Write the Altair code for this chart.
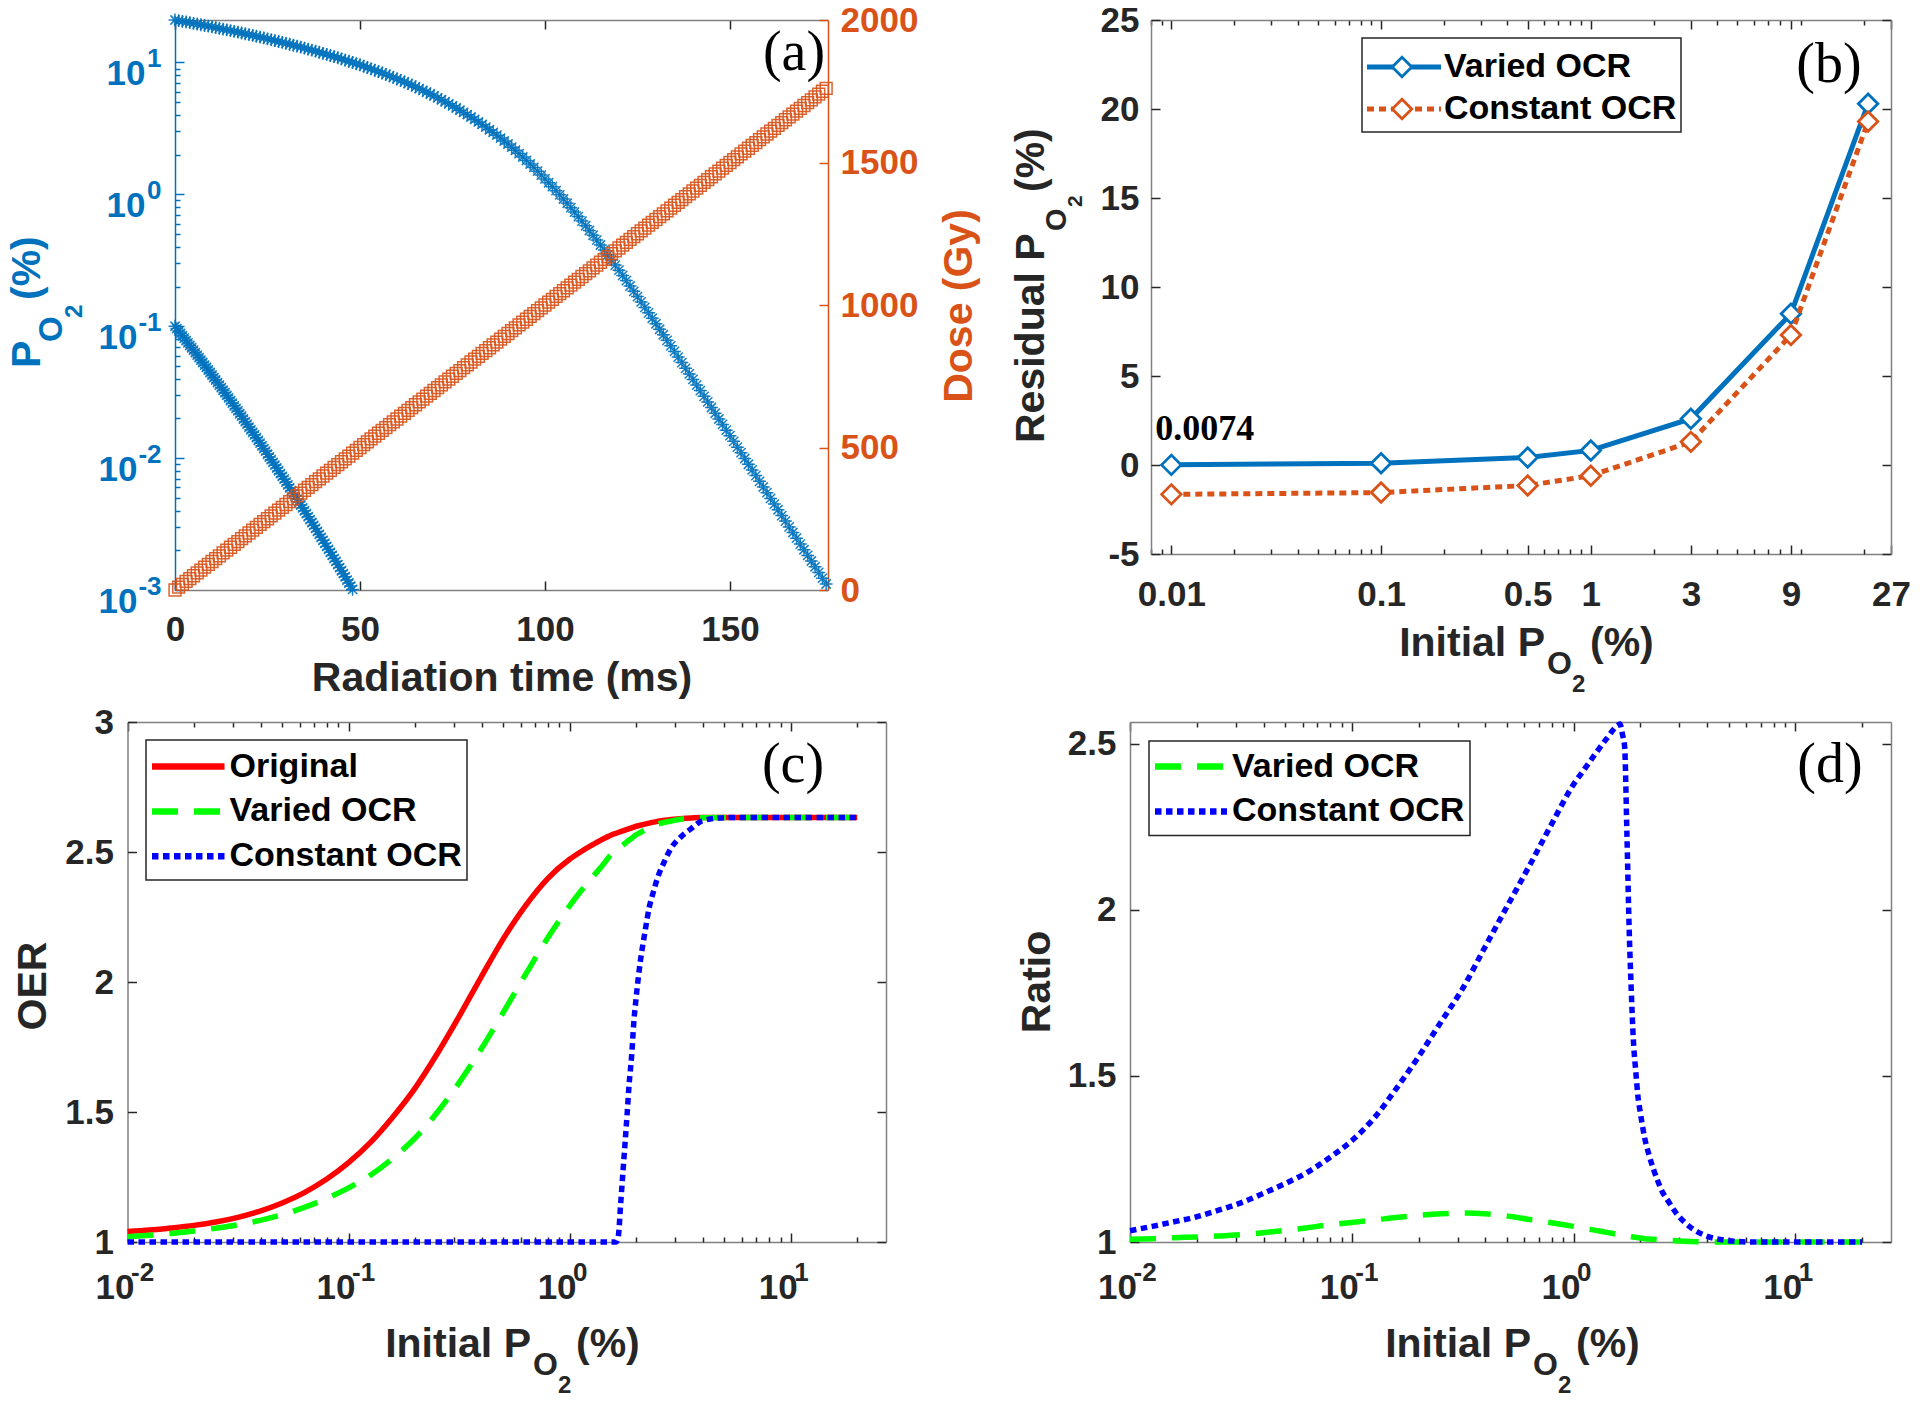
import altair as alt
import pandas as pd

# ---------------------------------------------------------------- data
# (a) PO2 decay during irradiation, 1 ms steps, initial 21 %
time_ms = list(range(0, 177))
po2_21 = [
    21.00, 20.76, 20.52, 20.28, 20.04, 19.80, 19.57, 19.33, 19.09, 18.86,
    18.62, 18.39, 18.15, 17.91, 17.68, 17.44, 17.21, 16.98, 16.74, 16.51,
    16.28, 16.05, 15.81, 15.58, 15.35, 15.12, 14.89, 14.66, 14.43, 14.20,
    13.97, 13.75, 13.52, 13.30, 13.07, 12.85, 12.62, 12.40, 12.18, 11.96,
    11.74, 11.52, 11.30, 11.08, 10.86, 10.65, 10.43, 10.22, 10.00, 9.79,
    9.58, 9.37, 9.16, 8.95, 8.74, 8.53, 8.33, 8.12, 7.92, 7.72,
    7.52, 7.32, 7.12, 6.92, 6.73, 6.53, 6.34, 6.15, 5.96, 5.77,
    5.58, 5.40, 5.22, 5.04, 4.86, 4.69, 4.52, 4.35, 4.18, 4.02,
    3.86, 3.70, 3.54, 3.39, 3.24, 3.09, 2.95, 2.81, 2.67, 2.54,
    2.41, 2.28, 2.16, 2.04, 1.92, 1.81, 1.70, 1.60, 1.50, 1.40,
    1.31,
    1.225, 1.143, 1.066, 0.992, 0.922, 0.856, 0.793, 0.734, 0.679, 0.627,
    0.578, 0.532, 0.490, 0.450, 0.413, 0.379, 0.347, 0.318, 0.291, 0.266,
    0.243, 0.222, 0.202, 0.184, 0.168, 0.153, 0.139, 0.1265, 0.115, 0.1045,
    0.0949, 0.0862, 0.0782, 0.0710, 0.0644, 0.0584, 0.0530, 0.0480, 0.0435, 0.0395,
    0.0358, 0.0325, 0.0294, 0.0267, 0.0242, 0.0219, 0.0198, 0.0180, 0.0163, 0.0148,
    0.0134, 0.0121, 0.0110, 0.00993, 0.00899, 0.00814, 0.00737, 0.00667, 0.00604, 0.00547,
    0.00495, 0.00448, 0.00406, 0.00367, 0.00333, 0.00301, 0.00273, 0.00247, 0.00223, 0.00202,
    0.00183, 0.00166, 0.00150, 0.00136, 0.00123, 0.00111,
]
# (a) PO2 decay, initial 0.1 %, 0.5 ms steps
time_low_ms = [i * 0.5 for i in range(97)]
po2_01 = [
    0.1000, 0.0960, 0.0921, 0.0883, 0.0847, 0.0813, 0.0779, 0.0747, 0.0716, 0.0687,
    0.0658, 0.0630, 0.0604, 0.0579, 0.0554, 0.0531, 0.0508, 0.0487, 0.0466, 0.0446,
    0.0427, 0.0408, 0.0391, 0.0374, 0.0358, 0.0342, 0.0327, 0.0313, 0.0299, 0.0286,
    0.0273, 0.0261, 0.0249, 0.0238, 0.0228, 0.0217, 0.0208, 0.0198, 0.0189, 0.0181,
    0.0172, 0.0164, 0.0157, 0.0150, 0.0143, 0.0136, 0.0130, 0.0124, 0.0118, 0.0113,
    0.0107, 0.0102, 0.00974, 0.00928, 0.00884, 0.00842, 0.00802, 0.00763, 0.00727, 0.00692,
    0.00658, 0.00627, 0.00596, 0.00567, 0.00540, 0.00513, 0.00488, 0.00464, 0.00441, 0.00419,
    0.00399, 0.00379, 0.00360, 0.00342, 0.00325, 0.00309, 0.00293, 0.00278, 0.00264, 0.00251,
    0.00238, 0.00226, 0.00214, 0.00203, 0.00193, 0.00183, 0.00173, 0.00165, 0.00156, 0.00148,
    0.00140, 0.00133, 0.00126, 0.00119, 0.00113, 0.00107, 0.00101,
]
# (a) accumulated dose (Gy)
dose_gy = [
    0, 10, 20, 30, 40, 50, 60, 70, 80, 90,
    100, 110, 120, 130, 140, 150, 160, 170, 180, 190,
    200, 210, 220, 230, 240, 250, 260, 270, 280, 290,
    300, 310, 320, 330, 340, 350, 360, 370, 380, 390,
    400, 410, 420, 430, 440, 450, 460, 470, 480, 490,
    500, 510, 520, 530, 540, 550, 560, 570, 580, 590,
    600, 610, 620, 630, 640, 650, 660, 670, 680, 690,
    700, 710, 720, 730, 740, 750, 760, 770, 780, 790,
    800, 810, 820, 830, 840, 850, 860, 870, 880, 890,
    900, 910, 920, 930, 940, 950, 960, 970, 980, 990,
    1000, 1010, 1020, 1030, 1040, 1050, 1060, 1070, 1080, 1090,
    1100, 1110, 1120, 1130, 1140, 1150, 1160, 1170, 1180, 1190,
    1200, 1210, 1220, 1230, 1240, 1250, 1260, 1270, 1280, 1290,
    1300, 1310, 1320, 1330, 1340, 1350, 1360, 1370, 1380, 1390,
    1400, 1410, 1420, 1430, 1440, 1450, 1460, 1470, 1480, 1490,
    1500, 1510, 1520, 1530, 1540, 1550, 1560, 1570, 1580, 1590,
    1600, 1610, 1620, 1630, 1640, 1650, 1660, 1670, 1680, 1690,
    1700, 1710, 1720, 1730, 1740, 1750, 1760,
]

# (b) residual PO2
b_initial = [0.01, 0.1, 0.5, 1, 3, 9, 21]
b_varied = [0.0074, 0.1, 0.42, 0.82, 2.6, 8.5, 20.3]
b_constant = [-1.65, -1.55, -1.15, -0.6, 1.3, 7.3, 19.3]
b_xticks = [0.01, 0.1, 0.5, 1, 3, 9, 27]
b_yticks = [-5, 0, 5, 10, 15, 20, 25]

# (c)/(d) initial PO2 grid
cd_initial = [
    0.01, 0.0126, 0.0158, 0.02, 0.0251, 0.0316, 0.0398, 0.0501, 0.0631, 0.0794,
    0.1, 0.126, 0.158, 0.2, 0.251, 0.316, 0.398, 0.501, 0.631, 0.794,
    1.0, 1.12, 1.26, 1.41, 1.58,
    1.62, 1.66, 1.70, 1.74, 1.78, 1.82, 1.86, 1.91, 1.95, 2.0,
    2.09, 2.19, 2.29, 2.40, 2.51,
    2.69, 2.88, 3.16,
    3.55, 3.98,
    5.01, 6.31, 7.94, 10.0, 12.6, 15.8, 20.0,
]
oer_original = [
    1.040, 1.046, 1.054, 1.064, 1.077, 1.095, 1.119, 1.150, 1.190, 1.241,
    1.305, 1.384, 1.479, 1.592, 1.722, 1.867, 2.019, 2.166, 2.293, 2.397,
    2.472, 2.500, 2.526, 2.549, 2.569,
    2.572, 2.575, 2.578, 2.581, 2.584, 2.587, 2.590, 2.593, 2.596, 2.599,
    2.603, 2.607, 2.611, 2.615, 2.618,
    2.622, 2.625, 2.628,
    2.631, 2.633,
    2.633, 2.633, 2.633, 2.633, 2.633, 2.633, 2.633,
]
oer_varied = [
    1.020, 1.026, 1.033, 1.042, 1.053, 1.066, 1.083, 1.105, 1.133, 1.167,
    1.208, 1.258, 1.321, 1.400, 1.497, 1.612, 1.742, 1.883, 2.028, 2.168,
    2.293, 2.348, 2.400, 2.449, 2.500,
    2.507, 2.513, 2.520, 2.526, 2.533, 2.540, 2.546, 2.553, 2.559, 2.566,
    2.575, 2.584, 2.592, 2.600, 2.607,
    2.614, 2.619, 2.626,
    2.630, 2.632,
    2.633, 2.633, 2.633, 2.633, 2.633, 2.633, 2.633,
]
oer_constant = [
    1.0, 1.0, 1.0, 1.0, 1.0, 1.0, 1.0, 1.0, 1.0, 1.0,
    1.0, 1.0, 1.0, 1.0, 1.0, 1.0, 1.0, 1.0, 1.0, 1.0,
    1.0, 1.0, 1.0, 1.0, 1.0,
    1.0, 1.02, 1.14, 1.26, 1.375, 1.49, 1.61, 1.72, 1.84, 1.94,
    2.08, 2.19, 2.285, 2.35, 2.405,
    2.465, 2.515, 2.555,
    2.59, 2.62,
    2.632, 2.633, 2.633, 2.633, 2.633, 2.633, 2.633,
]
ratio_varied = [
    1.008, 1.010, 1.013, 1.015, 1.018, 1.022, 1.028, 1.035, 1.043, 1.052,
    1.059, 1.066, 1.074, 1.080, 1.085, 1.087, 1.085, 1.078, 1.068, 1.058,
    1.047, 1.041, 1.035, 1.029, 1.023,
    1.022, 1.021, 1.019, 1.018, 1.017, 1.016, 1.015, 1.014, 1.013, 1.012,
    1.010, 1.009, 1.008, 1.007, 1.006,
    1.005, 1.004, 1.002,
    1.001, 1.000,
    1.000, 1.000, 1.000, 1.000, 1.000, 1.000, 1.000,
]
ratio_constant = [
    1.034, 1.047, 1.061, 1.076, 1.096, 1.118, 1.146, 1.176, 1.210, 1.254,
    1.305, 1.373, 1.460, 1.558, 1.660, 1.763, 1.887, 2.010, 2.132, 2.257,
    2.378, 2.424, 2.472, 2.516, 2.556,
    2.560, 2.530, 2.490, 2.230, 1.950, 1.760, 1.610, 1.510, 1.440, 1.390,
    1.315, 1.262, 1.220, 1.183, 1.152,
    1.120, 1.090, 1.060,
    1.034, 1.018,
    1.004, 1.000, 1.000, 1.000, 1.000, 1.000, 1.000,
]

# ---------------------------------------------------------------- layout
W, H = 1904, 1392
SANS = "Liberation Sans"
SERIF = "Liberation Serif"
DARK = "#262626"
BOX = "#808080"
MBLUE = "#0072BD"
MORANGE = "#D95319"

A = dict(x0=167, x1=820, yt=12, yb=582)
B = dict(x0=1143, x1=1883, yt=12, yb=546)
C = dict(x0=119.5, x1=878, yt=714, yb=1234)
D = dict(x0=1122, x1=1883, yt=714, yb=1234)

BASE = dict(title=None, grid=False, labelFlush=False, labelOverlap=False)


def at_bottom(y, **kw):
    return alt.Axis(orient="bottom", offset=y - H, **{**BASE, **kw})


def at_top(y, **kw):
    return alt.Axis(orient="top", offset=-y, **{**BASE, **kw})


def at_left(x, **kw):
    return alt.Axis(orient="left", offset=-x, **{**BASE, **kw})


def at_right(x, **kw):
    return alt.Axis(orient="right", offset=x - W, **{**BASE, **kw})


def lab(**kw):
    d = dict(ticks=False, tickSize=0, labelFont=SANS, labelFontWeight="bold",
             labelFontSize=35, labelColor=DARK, domain=True, domainColor=BOX,
             domainWidth=1.5)
    d.update(kw)
    return d


def tk(values, major=None, color=DARK, **kw):
    d = dict(labels=False, domain=False, ticks=True, values=values,
             tickColor=color, tickWidth=1.5)
    d["tickSize"] = 9 if major is None else {
        "condition": {"test": major, "value": 9}, "value": 5}
    d.update(kw)
    return d


def lin(dom, rng):
    return alt.Scale(type="linear", domain=dom, range=rng, nice=False, zero=False)


def logs(dom, rng):
    return alt.Scale(type="log", domain=dom, range=rng, nice=False)


def log_ticks(lo, hi):
    out = []
    for e in range(-4, 3):
        for k in range(1, 10):
            v = round(k * 10 ** e, 8)
            if lo - 1e-12 <= v <= hi + 1e-12:
                out.append(v)
    return out


MAJOR_LOG = "abs(log(datum.value)/LN10 - round(log(datum.value)/LN10)) < 0.001"
ONE = pd.DataFrame({"k": [0]})


def text(s, x, y, size, color=DARK, font=SANS, weight="bold", align="left",
         baseline="alphabetic", angle=None):
    kw = dict(text=s, font=font, fontSize=size, fontWeight=weight, color=color,
              align=align, baseline=baseline)
    if angle is not None:
        kw["angle"] = angle
    return alt.Chart(ONE).mark_text(**kw).encode(x=alt.value(x), y=alt.value(y))


def box(x0, x1, y0, y1):
    return alt.Chart(ONE).mark_rect(fill="white", stroke=DARK, strokeWidth=1.5).encode(
        x=alt.value(x0), x2=alt.value(x1), y=alt.value(y0), y2=alt.value(y1))


def sample(x0, x1, y, color, dash=None, width=5.5):
    kw = dict(color=color, strokeWidth=width)
    if dash:
        kw["strokeDash"] = dash
    return alt.Chart(ONE).mark_rule(**kw).encode(
        x=alt.value(x0), x2=alt.value(x1), y=alt.value(y))


def diamond_at(x, y, color):
    return alt.Chart(ONE).mark_point(shape="diamond", size=380, filled=True, fill="white",
                                     stroke=color, strokeWidth=2.8, opacity=1).encode(
        x=alt.value(x), y=alt.value(y))


layers = []

# ---------------------------------------------------------------- panel (a)
dfA_po2 = pd.concat([pd.DataFrame({"t": time_ms, "p": po2_21}),
                     pd.DataFrame({"t": time_low_ms, "p": po2_01})])
dfA_dose = pd.DataFrame({"t": time_ms, "dose": dose_gy})
dumA = pd.DataFrame({"t": [0, 176.5], "p": [0.001, 21], "dose": [0, 2000]})
AX = lambda: lin([0, 176.5], [A["x0"], A["x1"]])
AY = lambda: logs([0.001, 21], [A["yb"], A["yt"]])
AD = lambda: lin([0, 2000], [A["yb"], A["yt"]])
A_XT = [0, 50, 100, 150]
A_DEC = [0.001, 0.01, 0.1, 1, 10]
EXP_A = ("datum.value < 0.005 ? '-3' : datum.value < 0.05 ? '-2' : "
         "datum.value < 0.5 ? '-1' : datum.value < 5 ? '0' : '1'")
AST = "M-1,0L1,0M0,-1L0,1M-0.72,-0.72L0.72,0.72M-0.72,0.72L0.72,-0.72"

layers.append(alt.Chart(dfA_po2).mark_point(
    shape=AST, size=165, filled=False, color=MBLUE, strokeWidth=1.5, opacity=0.9).encode(
    x=alt.X("t:Q", scale=AX(), axis=at_bottom(A["yb"], **lab(values=A_XT, labelPadding=22))),
    y=alt.Y("p:Q", scale=AY(), axis=at_left(A["x0"], **lab(
        values=A_DEC, labelExpr="'10'", labelColor=MBLUE, labelOffset=11,
        labelPadding={"condition": {"test": "datum.value < 0.5", "value": 38}, "value": 30},
        domainColor=MBLUE)))))
layers.append(alt.Chart(dumA).mark_point(opacity=0).encode(
    x=alt.X("t:Q", scale=AX(), axis=at_bottom(A["yt"], **tk(A_XT, domain=True, domainColor=BOX, domainWidth=1.5))),
    y=alt.Y("p:Q", scale=AY(), axis=at_left(A["x0"], **lab(
        values=A_DEC, labelExpr=EXP_A, labelFontSize=26, labelColor=MBLUE,
        labelOffset=-4, labelPadding=14, domain=False)))))
layers.append(alt.Chart(dumA).mark_point(opacity=0).encode(
    x=alt.X("t:Q", scale=AX(), axis=at_top(A["yb"], **tk(A_XT))),
    y=alt.Y("p:Q", scale=AY(), axis=at_right(A["x0"], **tk(log_ticks(0.001, 21), MAJOR_LOG, color=MBLUE)))))
layers.append(alt.Chart(dfA_dose).mark_point(
    shape="square", size=140, filled=False, color=MORANGE, strokeWidth=1.5, opacity=0.9).encode(
    x=alt.X("t:Q", scale=AX(), axis=None),
    y=alt.Y("dose:Q", scale=AD(), axis=at_right(A["x1"], **lab(
        values=[0, 500, 1000, 1500, 2000], format="d", labelColor=MORANGE,
        labelPadding=12, domainColor=MORANGE)))))
layers.append(alt.Chart(dumA).mark_point(opacity=0).encode(
    x=alt.X("t:Q", scale=AX(), axis=None),
    y=alt.Y("dose:Q", scale=AD(), axis=at_left(A["x1"], **tk([0, 500, 1000, 1500, 2000], color=MORANGE)))))

# ---------------------------------------------------------------- panel (b)
dfB = pd.DataFrame({"x": b_initial, "varied": b_varied, "constant": b_constant})
BX = lambda: logs([0.008, 27], [B["x0"], B["x1"]])
BY = lambda: lin([-5, 25], [B["yb"], B["yt"]])
B_MAJ = "indexof([0.01,0.1,0.5,1,3,9,27], datum.value) >= 0"
B_TICKS = sorted(set(log_ticks(0.008, 27) + b_xticks))

layers.append(alt.Chart(dfB).mark_line(color=MBLUE, strokeWidth=5).encode(
    x=alt.X("x:Q", scale=BX(), axis=at_bottom(B["yb"], **lab(values=b_xticks, format="~g", labelPadding=23))),
    y=alt.Y("varied:Q", scale=BY(), axis=at_left(B["x0"], **lab(
        values=b_yticks, labelExpr="replace(datum.label, '\u2212', '-')", labelPadding=12)))))
layers.append(alt.Chart(dfB).mark_point(shape="diamond", size=380, filled=True, fill="white",
                                        stroke=MBLUE, strokeWidth=2.8, opacity=1).encode(
    x=alt.X("x:Q", scale=BX(), axis=at_top(B["yb"], **tk(B_TICKS, B_MAJ))),
    y=alt.Y("varied:Q", scale=BY(), axis=at_right(B["x0"], **tk(b_yticks)))))
layers.append(alt.Chart(dfB).mark_line(color=MORANGE, strokeWidth=5, strokeDash=[7, 5]).encode(
    x=alt.X("x:Q", scale=BX(), axis=at_bottom(B["yt"], **tk(B_TICKS, B_MAJ, domain=True, domainColor=BOX, domainWidth=1.5))),
    y=alt.Y("constant:Q", scale=BY(), axis=at_left(B["x1"], **tk(b_yticks, domain=True, domainColor=BOX, domainWidth=1.5)))))
layers.append(alt.Chart(dfB).mark_point(shape="diamond", size=380, filled=True, fill="white",
                                        stroke=MORANGE, strokeWidth=2.8, opacity=1).encode(
    x=alt.X("x:Q", scale=BX(), axis=None),
    y=alt.Y("constant:Q", scale=BY(), axis=None)))
dfB_note = pd.DataFrame({"x": [b_initial[0]], "y": [b_varied[0]], "label": [f"{b_varied[0]}"]})
layers.append(alt.Chart(dfB_note).mark_text(
    font=SERIF, fontWeight="bold", fontSize=36, align="left", baseline="alphabetic",
    dx=-16, dy=-25, color="black").encode(
    x=alt.X("x:Q", scale=BX(), axis=None),
    y=alt.Y("y:Q", scale=BY(), axis=None),
    text="label:N"))

# ---------------------------------------------------------------- panels (c) and (d)
EXP_CD = ("datum.value < 0.05 ? '-2' : datum.value < 0.5 ? '-1' : "
          "datum.value < 5 ? '0' : '1'")
CD_DEC = [0.01, 0.1, 1, 10]
CD_TICKS = log_ticks(0.01, 27)


def panel_cd(P, df, series, ydom, yticks):
    X = lambda: logs([0.01, 27], [P["x0"], P["x1"]])
    Y = lambda: lin(ydom, [P["yb"], P["yt"]])
    out = []
    axes = [
        (at_bottom(P["yb"], **lab(values=CD_DEC, labelExpr="'10'", labelOffset=-13, labelPadding=28)),
         at_left(P["x0"], **lab(values=yticks, format="~g", labelPadding=14))),
        (at_bottom(P["yb"], **lab(values=CD_DEC, labelExpr=EXP_CD, labelFontSize=26, labelAlign="left",
                                  labelOffset=3, labelPadding=17, domain=False)),
         at_right(P["x0"], **tk(yticks))),
        (at_top(P["yb"], **tk(CD_TICKS, MAJOR_LOG)),
         at_left(P["x1"], **tk(yticks, domain=True, domainColor=BOX, domainWidth=1.5))),
        (at_bottom(P["yt"], **tk(CD_TICKS, MAJOR_LOG, domain=True, domainColor=BOX, domainWidth=1.5)),
         None),
    ]
    for i, (xa, ya) in enumerate(axes):
        if i < len(series):
            field, color, dash = series[i]
            kw = dict(color=color, strokeWidth=5.5, interpolate="monotone")
            if dash:
                kw["strokeDash"] = dash
            mark = alt.Chart(df).mark_line(**kw)
        else:
            field = series[0][0]
            mark = alt.Chart(df).mark_point(opacity=0)
        out.append(mark.encode(
            x=alt.X("x:Q", scale=X(), axis=xa),
            y=alt.Y(f"{field}:Q", scale=Y(), axis=ya)))
    return out


dfC = pd.DataFrame({"x": cd_initial, "orig": oer_original, "varied": oer_varied, "const": oer_constant})
dfD = pd.DataFrame({"x": cd_initial, "varied": ratio_varied, "const": ratio_constant})
GREEN = "#00FF00"
BLUE = "#0000FF"
RED = "#FF0000"
DASH = [26, 16]
DOT = [6.5, 4.5]

layers += panel_cd(C, dfC, [("orig", RED, None), ("varied", GREEN, DASH), ("const", BLUE, DOT)],
                   [1, 3], [1, 1.5, 2, 2.5, 3])
layers += panel_cd(D, dfD, [("varied", GREEN, DASH), ("const", BLUE, DOT)],
                   [1, 2.566], [1, 1.5, 2, 2.5])

# ---------------------------------------------------------------- legends
layers += [
    box(1354, 1673, 30, 124),
    sample(1359, 1433, 59, MBLUE, width=5), diamond_at(1394, 59, MBLUE),
    sample(1359, 1433, 101, MORANGE, [7, 5], width=5), diamond_at(1394, 101, MORANGE),
    text("Varied OCR", 1436, 59, 34, color="black", baseline="middle"),
    text("Constant OCR", 1436, 101, 34, color="black", baseline="middle"),

    box(138, 459, 732, 872),
    sample(144, 216.5, 758.6, RED, width=6.5), sample(144, 216.5, 803.4, GREEN, DASH, width=6.5),
    sample(144, 216.5, 848.2, BLUE, DOT, width=6.5),
    text("Original", 221.5, 758.6, 34, color="black", baseline="middle"),
    text("Varied OCR", 221.5, 803.4, 34, color="black", baseline="middle"),
    text("Constant OCR", 221.5, 848.2, 34, color="black", baseline="middle"),

    box(1141, 1462, 733, 827.5),
    sample(1147, 1219, 758.6, GREEN, DASH, width=6.5), sample(1147, 1219, 803.4, BLUE, DOT, width=6.5),
    text("Varied OCR", 1224, 758.6, 34, color="black", baseline="middle"),
    text("Constant OCR", 1224, 803.4, 34, color="black", baseline="middle"),
]

# ---------------------------------------------------------------- titles
layers += [
    # (a)
    text("P", 32, 360, 41, MBLUE, angle=270),
    text("O", 53.7, 334, 33, MBLUE, angle=270),
    text("2", 73.7, 310, 24, MBLUE, angle=270),
    text("(%)", 32, 292, 41, MBLUE, angle=270),
    text("Dose (Gy)", 964, 298, 41, MORANGE, align="center", angle=270),
    text("Radiation time (ms)", 494, 683, 41, align="center"),
    # (b)
    text("Residual P", 1036, 435, 41, angle=270),
    text("O", 1058, 223, 29, angle=270),
    text("2", 1074, 199, 21, angle=270),
    text("(%)", 1036, 184, 41, angle=270),
    text("Initial P", 1537, 648, 41, align="right"),
    text("O", 1539, 666, 32),
    text("2", 1564, 684, 24),
    text("(%)", 1582, 648, 41),
    # (c)
    text("OER", 38, 978, 41, align="center", angle=270),
    text("Initial P", 523, 1349, 41, align="right"),
    text("O", 525, 1367, 32),
    text("2", 550, 1385, 24),
    text("(%)", 568, 1349, 41),
    # (d)
    text("Ratio", 1042, 974, 41, align="center", angle=270),
    text("Initial P", 1523, 1349, 41, align="right"),
    text("O", 1525, 1367, 32),
    text("2", 1550, 1385, 24),
    text("(%)", 1568, 1349, 41),
    # panel tags
    text("(a)", 786, 62, 56, color="black", font=SERIF, weight="normal", align="center"),
    text("(b)", 1821, 74, 56, color="black", font=SERIF, weight="normal", align="center"),
    text("(c)", 785, 774, 56, color="black", font=SERIF, weight="normal", align="center"),
    text("(d)", 1822, 774, 56, color="black", font=SERIF, weight="normal", align="center"),
]

chart = alt.layer(*layers).resolve_scale(x="independent", y="independent").properties(
    width=W, height=H, autosize=alt.AutoSizeParams(type="none"), padding=0,
    background="white",
).configure_view(stroke=None)

chart.save("out.html", embed_options={"renderer": "svg", "actions": False})
